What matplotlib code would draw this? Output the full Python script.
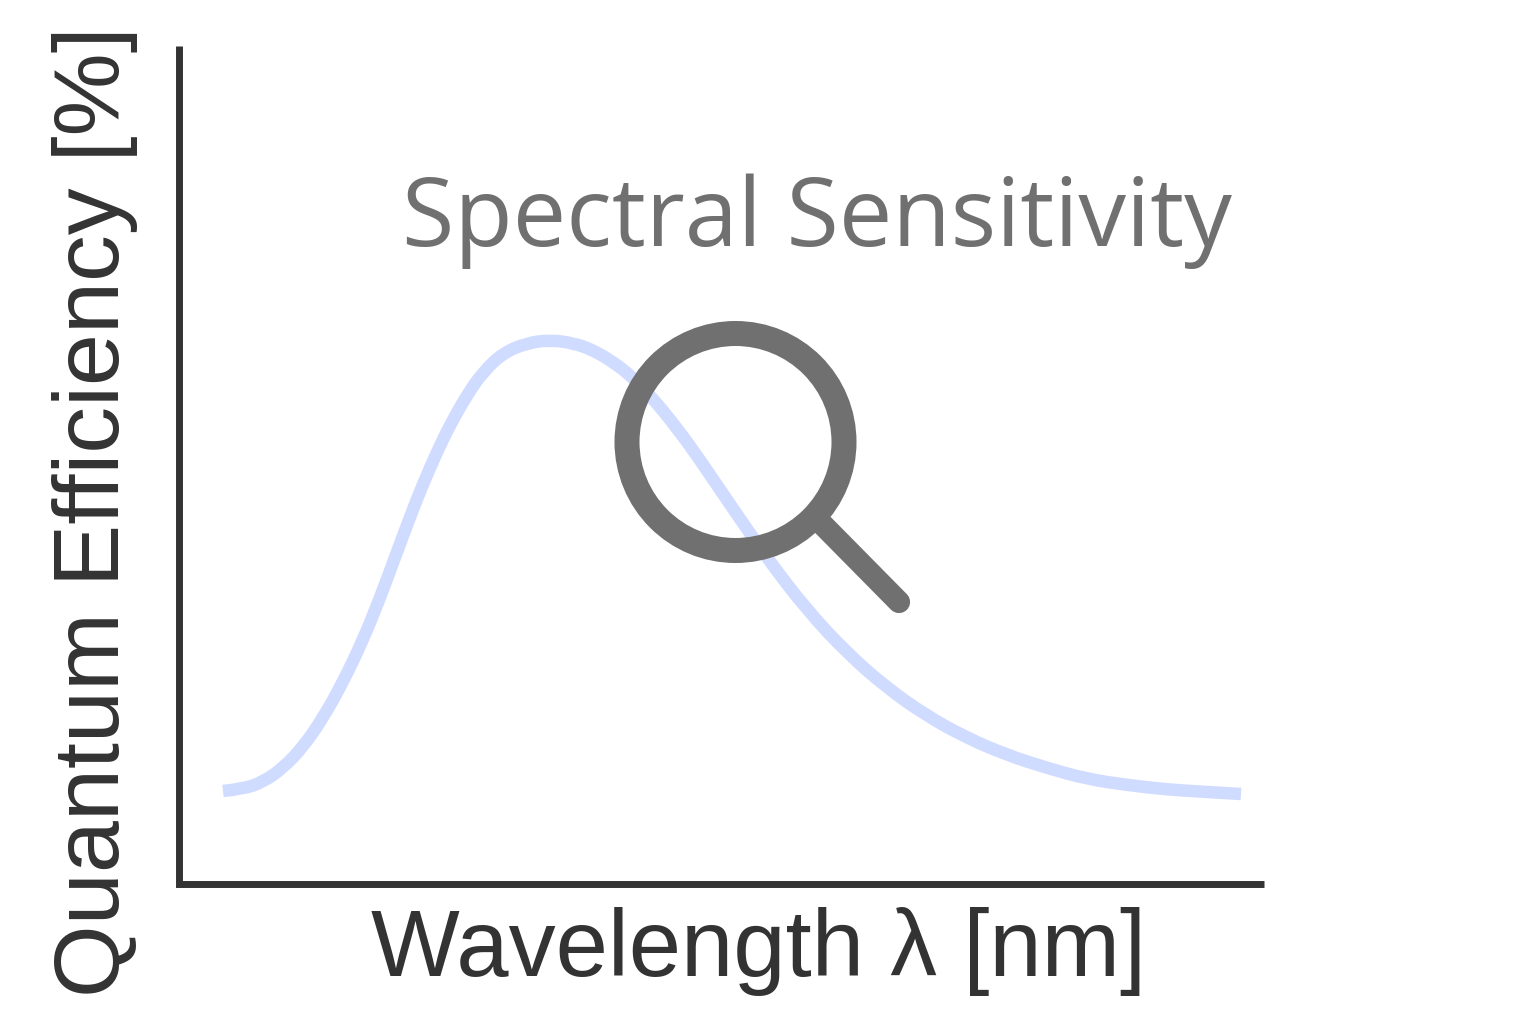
import matplotlib
matplotlib.use('Agg')
import matplotlib.pyplot as plt
from matplotlib.patches import Circle, PathPatch
from matplotlib.path import Path

# curve (pixel-like units of the reference)
wavelength = [223, 243, 263, 283, 303, 323, 343, 363, 380, 397, 410, 423, 437, 450, 467, 483, 503, 527, 550,
              573, 593, 613, 630, 650, 677, 700, 723, 747, 770, 807, 847, 887, 927, 967, 1007, 1047,
              1087, 1127, 1167, 1207, 1241]
efficiency = [791, 789, 782, 768, 747, 718, 682, 640, 598, 552, 517, 484, 452, 425, 395, 372, 353, 343, 340,
              343, 350, 362, 375, 395, 428, 460, 494, 529, 562, 610, 653, 688, 716, 738, 755, 768,
              779, 785, 789.5, 792, 794]

fig = plt.figure(figsize=(15.36, 10.24), dpi=100)
ax = fig.add_axes([0, 0, 1, 1])
ax.set_xlim(0, 1536)
ax.set_ylim(1024, 0)
ax.axis('off')

# axes lines
ax.plot([179, 179, 1264], [46, 884, 884], color='#333333', lw=5, solid_joinstyle='miter', solid_capstyle='butt')

# spectrum, read values as control points of a smooth path
pts = list(zip(wavelength, efficiency))
verts = [pts[0]]
codes = [Path.MOVETO]
for i in range(1, len(pts) - 1):
    mid = ((pts[i][0] + pts[i + 1][0]) / 2, (pts[i][1] + pts[i + 1][1]) / 2)
    verts += [pts[i], mid if i < len(pts) - 2 else pts[-1]]
    codes += [Path.CURVE3, Path.CURVE3]
ax.add_patch(PathPatch(Path(verts, codes), fill=False, ec='#d0dcff', lw=9, capstyle='butt'))

# magnifier
ax.plot([822, 899], [524, 602], color='#707070', lw=16, solid_capstyle='round', zorder=3)
ax.add_patch(Circle((735.5, 442), 108.5, fill=False, ec='#707070', lw=18, zorder=4))

ax.text(817, 221, 'Spectral Sensitivity', fontsize=68.7, family='Open Sans', color='#707070', ha='center', va='center')
ax.text(759, 952, 'Wavelength λ [nm]', fontsize=67.7, family='Liberation Sans', color='#333333', ha='center', va='center')
ax.text(95, 512, 'Quantum Efficiency [%]', fontsize=67.3, family='Liberation Sans', color='#333333', ha='center', va='center', rotation=90)

fig.savefig('out.png', dpi=100)
